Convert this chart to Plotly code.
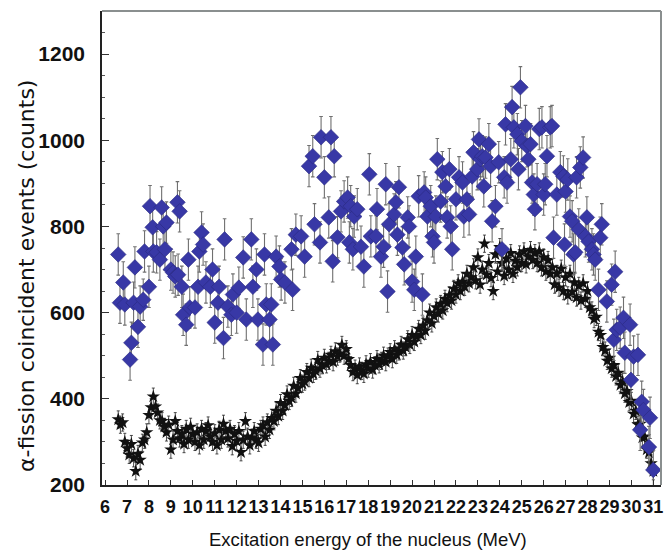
import plotly.graph_objects as go

# ---- black series (total alpha-fission coincidences), E step 0.1 MeV ----
black_E = [round(6.6 + 0.1 * i, 1) for i in range(245)]
black_counts = [
    352, 340, 345, 300, 285, 270, 295, 262, 232, 272,   # 6.6-7.5
    258, 298, 305, 322, 362, 380, 405, 382, 368, 350,   # 7.6-8.5
    348, 335, 322, 340, 282, 305, 348, 325, 308, 318,   # 8.6-9.5
    295, 330, 305, 335, 318, 300, 322, 292, 330, 305,   # 9.6-10.5
    325, 338, 312, 300, 320, 292, 328, 305, 342, 325,   # 10.6-11.5
    308, 330, 290, 318, 302, 325, 276, 305, 348, 312,   # 11.6-12.5
    292, 310, 325, 305, 298, 330, 338, 312, 345, 328,   # 12.6-13.5
    355, 348, 372, 360, 390, 372, 385, 410, 395, 402,   # 13.6-14.5
    430, 412, 425, 448, 435, 440, 462, 448, 472, 458,   # 14.6-15.5
    465, 490, 470, 478, 495, 480, 488, 502, 485, 510,   # 15.6-16.5
    498, 505, 525, 500, 515, 492, 478, 462, 470, 455,   # 16.6-17.5
    475, 465, 458, 480, 470, 485, 468, 478, 492, 480,   # 17.6-18.5
    488, 500, 485, 498, 508, 492, 515, 502, 510, 525,   # 18.6-19.5
    512, 520, 538, 525, 548, 532, 545, 562, 548, 570,   # 19.6-20.5
    558, 582, 600, 575, 592, 612, 598, 620, 605, 632,   # 20.6-21.5
    622, 640, 628, 655, 642, 668, 650, 672, 660, 690,   # 21.6-22.5
    668, 682, 705, 675, 728, 665, 700, 760, 688, 715,   # 22.6-23.5
    680, 650, 735, 695, 752, 715, 685, 725, 700, 738,   # 23.6-24.5
    690, 720, 705, 735, 715, 742, 712, 730, 745, 722,   # 24.6-25.5
    738, 715, 742, 705, 728, 695, 722, 690, 705, 665,   # 25.6-26.5
    690, 658, 702, 650, 682, 640, 690, 648, 670, 635,   # 26.6-27.5
    662, 628, 668, 632, 650, 612, 605, 585, 590, 555,   # 27.6-28.5
    548, 520, 512, 488, 495, 470, 478, 452, 460, 432,   # 28.6-29.5
    440, 412, 418, 392, 395, 365, 372, 340, 342, 310,   # 29.6-30.5
    312, 282, 275, 250, 232,                            # 30.6-31.0
]
black_err = 20

# ---- blue series (alpha-fission coincidences, selected) ----
blue_E = [
    6.6, 6.68, 6.83, 6.9, 7.14, 7.2, 7.3, 7.36, 7.5, 7.6, 7.74, 7.8,
    8.0, 8.05, 8.17, 8.2, 8.35, 8.5, 8.58, 8.65, 8.73, 8.8,
    9.0, 9.1, 9.2, 9.3, 9.33, 9.4, 9.5, 9.56, 9.7, 9.8, 9.86,
    10.1, 10.24, 10.3, 10.4, 10.47, 10.6, 10.8, 10.9,
    11.0, 11.15, 11.2, 11.4, 11.45, 11.6, 11.76, 11.83,
    12.0, 12.1, 12.3, 12.44, 12.67, 12.74, 12.9, 12.97,
    13.2, 13.27, 13.35, 13.5, 13.58, 13.65, 13.8, 13.95,
    14.03, 14.2, 14.5, 14.55, 14.7, 14.94,
    15.1, 15.3, 15.47, 15.55, 15.8, 15.85,
    16.0, 16.2, 16.3, 16.38, 16.45, 16.6, 16.76, 16.9,
    17.06, 17.14, 17.2, 17.3, 17.36, 17.5, 17.67, 17.8,
    18.05, 18.12, 18.35, 18.4, 18.58, 18.7, 18.8, 18.88, 18.95,
    19.18, 19.26, 19.33, 19.4, 19.56, 19.64, 19.8, 19.86,
    20.0, 20.1, 20.17, 20.3, 20.47, 20.55, 20.62, 20.7, 20.85, 20.93,
    21.0, 21.08, 21.15, 21.3, 21.38, 21.53, 21.6, 21.7, 21.76, 21.83,
    22.0, 22.14, 22.3, 22.36, 22.5, 22.6, 22.74, 22.8, 22.97,
    23.05, 23.12, 23.2, 23.27, 23.35, 23.5, 23.58, 23.65, 23.8, 23.95,
    24.1, 24.2, 24.26, 24.33, 24.5, 24.56, 24.64, 24.8, 24.85, 24.94,
    25.0, 25.17, 25.24, 25.3, 25.4, 25.47, 25.55, 25.6, 25.7, 25.8, 25.92,
    26.0, 26.07, 26.15, 26.3, 26.38, 26.45, 26.6, 26.76, 26.9, 26.95,
    27.0, 27.1, 27.2, 27.3, 27.36, 27.44, 27.5, 27.6, 27.67, 27.8, 27.9, 27.97,
    28.05, 28.2, 28.27, 28.35, 28.5, 28.58, 28.65, 28.88,
    29.1, 29.2, 29.26, 29.33, 29.49, 29.64, 29.7, 29.94, 29.98,
    30.1, 30.3, 30.4, 30.47, 30.55, 30.8, 30.85, 31.0,
]
blue_counts = [
    735, 623, 670, 619, 491, 530, 623, 705, 567, 614, 630, 742,
    660, 847, 798, 742, 740, 723, 844, 800, 747, 809,
    700, 693, 684, 856, 688, 835, 660, 595, 572, 723, 612,
    612, 660, 742, 786, 758, 670, 660, 700,
    577, 623, 660, 541, 770, 614, 595, 642,
    600, 658, 728, 584, 770, 660, 700, 584,
    526, 735, 619, 584, 619, 526, 730, 707,
    677, 670, 747, 653, 781, 777,
    730, 940, 963, 805, 763, 1007,
    914, 821, 1007, 719, 963, 775, 835, 858,
    867, 763, 847, 747, 823, 840, 753, 707,
    921, 777, 777, 840, 730, 753, 898, 649, 805,
    828, 856, 781, 891, 751, 712, 821, 800,
    672, 653, 730, 870, 642, 879, 867, 823, 847, 777,
    763, 823, 956, 858, 926, 893, 821, 933, 800, 747,
    863, 914, 902, 823, 863, 828, 916, 972, 933,
    1002, 956, 963, 893, 960, 991, 940, 812, 847, 949,
    747, 914, 1037, 902, 956, 1077, 1030, 1014, 933, 1123,
    998, 1033, 986, 956, 991, 902, 874, 840, 898, 1026, 1030,
    874, 898, 963, 1030, 1033, 774, 874, 926, 916, 758,
    881, 909, 823, 812, 735, 740, 914, 793, 937, 960, 777, 821,
    765, 747, 735, 723, 653, 774, 805, 626,
    665, 537, 695, 560, 565, 588, 507, 572, 444,
    498, 502, 328, 393, 374, 288, 356, 235,
]
blue_err = 48

x_ticks = list(range(6, 32))
y_ticks = [200, 400, 600, 800, 1000, 1200]
x_title = "Excitation energy of the nucleus (MeV)"
y_title = "α-fission coincident events (counts)"

fig = go.Figure()

fig.add_trace(go.Scatter(
    x=black_E, y=black_counts, mode="markers",
    marker=dict(symbol="star", size=10, color="#111111",
                line=dict(width=0)),
    error_y=dict(type="constant", value=black_err, color="#222222",
                 thickness=0.8, width=1.5),
    showlegend=False,
))

fig.add_trace(go.Scatter(
    x=blue_E, y=blue_counts, mode="markers",
    marker=dict(symbol="diamond", size=12, color="#3838a6",
                line=dict(width=0.6, color="#2a2a80")),
    error_y=dict(type="constant", value=blue_err, color="#707070",
                 thickness=1.1, width=1.8),
    showlegend=False,
))

fig.update_layout(
    width=667, height=555,
    margin=dict(l=102, r=4, t=11, b=70),
    paper_bgcolor="white", plot_bgcolor="white",
    font=dict(family="Liberation Sans, Arial, sans-serif", color="#111111"),
    showlegend=False,
)

fig.update_xaxes(
    range=[5.86, 31.35], tickmode="array", tickvals=x_ticks,
    ticktext=[str(t) for t in x_ticks], tickangle=0,
    ticks="inside", ticklen=5, tickwidth=1, tickcolor="#333333",
    showline=True, linecolor="#222222", linewidth=1.5,
    showgrid=False, zeroline=False,
    tickfont=dict(size=18, weight="bold", color="#111111"),
    ticklabelstandoff=5,
)
fig.update_yaxes(
    range=[200, 1300], tickmode="array", tickvals=y_ticks,
    ticks="inside", ticklen=7, tickwidth=1.2, tickcolor="#333333",
    minor=dict(dtick=50, ticks="inside", ticklen=3, tickcolor="#555555",
               showgrid=False),
    showline=True, linecolor="#222222", linewidth=1.5,
    showgrid=False, zeroline=False,
    tickfont=dict(size=21, weight="bold", color="#111111"),
    ticklabelstandoff=11,
)

# axis titles placed as in the reference
fig.add_annotation(text=x_title, xref="paper", yref="paper",
                   x=0.476, y=-0.116, xanchor="center", yanchor="middle",
                   showarrow=False, font=dict(size=18.5, color="#111111"))
fig.add_annotation(text=y_title, xref="paper", yref="paper",
                   x=-0.135, y=0.44, xanchor="center", yanchor="middle",
                   textangle=-90, showarrow=False,
                   font=dict(size=22, family="DejaVu Sans", color="#111111"))

# grey frame on top and right
fig.add_shape(type="line", xref="paper", yref="paper", x0=0, x1=1, y0=1, y1=1,
              line=dict(color="#8a8f8f", width=2))
fig.add_shape(type="line", xref="paper", yref="paper", x0=1, x1=1, y0=0, y1=1,
              line=dict(color="#8a8f8f", width=2))

fig.write_html("out.html")
